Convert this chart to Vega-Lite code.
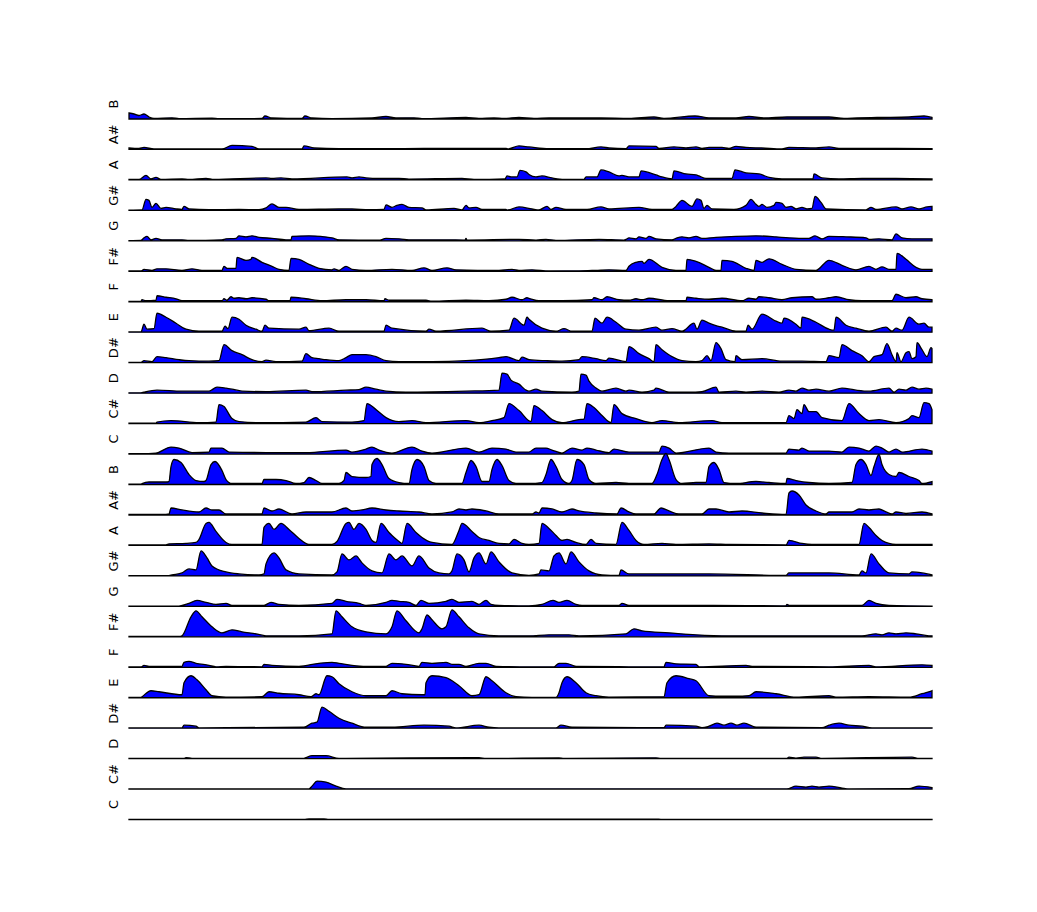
{
"$schema":"https://vega.github.io/schema/vega-lite/v6.json",
"padding":{"left":108,"top":89,"right":0,"bottom":0},
"background":"white",
"bounds":"flush",
"data":{"values":[
{"p":"B2","t":0,"v":6},{"p":"B2","t":5,"v":5},{"p":"B2","t":10,"v":3.5},{"p":"B2","t":15,"v":5},{"p":"B2","t":20,"v":2},{"p":"B2","t":25,"v":0.5},{"p":"B2","t":43,"v":1.2},{"p":"B2","t":50,"v":0.4},{"p":"B2","t":83,"v":0.8},{"p":"B2","t":90,"v":0.3},{"p":"B2","t":133,"v":0.5},{"p":"B2","t":136,"v":3},{"p":"B2","t":143,"v":1},{"p":"B2","t":173,"v":0.5},{"p":"B2","t":176,"v":3},{"p":"B2","t":183,"v":1},{"p":"B2","t":203,"v":0.4},{"p":"B2","t":243,"v":1},{"p":"B2","t":257,"v":2.5},{"p":"B2","t":267,"v":1},{"p":"B2","t":285,"v":1.2},{"p":"B2","t":293,"v":0.3},{"p":"B2","t":337,"v":1.5},{"p":"B2","t":350,"v":0.5},{"p":"B2","t":365,"v":1},{"p":"B2","t":375,"v":0.5},{"p":"B2","t":390,"v":1.5},{"p":"B2","t":405,"v":0.5},{"p":"B2","t":420,"v":1},{"p":"B2","t":447,"v":1},{"p":"B2","t":472,"v":1},{"p":"B2","t":500,"v":0.6},{"p":"B2","t":525,"v":2},{"p":"B2","t":535,"v":0.6},{"p":"B2","t":566,"v":3},{"p":"B2","t":580,"v":1.2},{"p":"B2","t":607,"v":1},{"p":"B2","t":620,"v":2.5},{"p":"B2","t":635,"v":1},{"p":"B2","t":658,"v":2},{"p":"B2","t":700,"v":2},{"p":"B2","t":715,"v":0.5},{"p":"B2","t":728,"v":1},{"p":"B2","t":748,"v":1.5},{"p":"B2","t":780,"v":2},{"p":"B2","t":795,"v":3},{"p":"B2","t":803,"v":1.5},
{"p":"A#2","t":0,"v":1.5},{"p":"A#2","t":10,"v":1},{"p":"A#2","t":15,"v":2},{"p":"A#2","t":25,"v":0.5},{"p":"A#2","t":60,"v":0.5},{"p":"A#2","t":93,"v":0.5},{"p":"A#2","t":103,"v":4},{"p":"A#2","t":123,"v":3},{"p":"A#2","t":130,"v":0.5},{"p":"A#2","t":173,"v":0.5},{"p":"A#2","t":175,"v":3.5},{"p":"A#2","t":185,"v":1.5},{"p":"A#2","t":210,"v":0.7},{"p":"A#2","t":250,"v":0.7},{"p":"A#2","t":300,"v":1},{"p":"A#2","t":377,"v":1},{"p":"A#2","t":379,"v":0.5},{"p":"A#2","t":390,"v":3.5},{"p":"A#2","t":400,"v":2.5},{"p":"A#2","t":420,"v":0.7},{"p":"A#2","t":457,"v":0.7},{"p":"A#2","t":472,"v":2.5},{"p":"A#2","t":480,"v":1.5},{"p":"A#2","t":497,"v":0.7},{"p":"A#2","t":500,"v":3.5},{"p":"A#2","t":527,"v":3},{"p":"A#2","t":530,"v":1},{"p":"A#2","t":545,"v":2.5},{"p":"A#2","t":557,"v":1.5},{"p":"A#2","t":567,"v":2.5},{"p":"A#2","t":573,"v":1},{"p":"A#2","t":580,"v":2},{"p":"A#2","t":593,"v":2},{"p":"A#2","t":600,"v":1},{"p":"A#2","t":607,"v":3},{"p":"A#2","t":617,"v":2},{"p":"A#2","t":633,"v":1.5},{"p":"A#2","t":653,"v":0.5},{"p":"A#2","t":660,"v":2},{"p":"A#2","t":687,"v":1.5},{"p":"A#2","t":700,"v":2.5},{"p":"A#2","t":710,"v":1},{"p":"A#2","t":767,"v":1},{"p":"A#2","t":803,"v":0.8},
{"p":"A2","t":0,"v":0.5},{"p":"A2","t":10,"v":0.5},{"p":"A2","t":17,"v":4.5},{"p":"A2","t":22,"v":1},{"p":"A2","t":27,"v":2.5},{"p":"A2","t":32,"v":0.5},{"p":"A2","t":53,"v":1},{"p":"A2","t":60,"v":0.4},{"p":"A2","t":77,"v":1.5},{"p":"A2","t":85,"v":0.4},{"p":"A2","t":137,"v":2},{"p":"A2","t":143,"v":1.5},{"p":"A2","t":152,"v":2},{"p":"A2","t":163,"v":1},{"p":"A2","t":218,"v":3},{"p":"A2","t":223,"v":2},{"p":"A2","t":230,"v":3},{"p":"A2","t":237,"v":2},{"p":"A2","t":250,"v":1.5},{"p":"A2","t":270,"v":1.5},{"p":"A2","t":280,"v":0.8},{"p":"A2","t":333,"v":1.5},{"p":"A2","t":345,"v":0.5},{"p":"A2","t":376,"v":1},{"p":"A2","t":378,"v":4},{"p":"A2","t":382,"v":3},{"p":"A2","t":388,"v":3},{"p":"A2","t":391,"v":9.5},{"p":"A2","t":397,"v":8},{"p":"A2","t":400,"v":5.5},{"p":"A2","t":407,"v":3},{"p":"A2","t":413,"v":4},{"p":"A2","t":423,"v":2},{"p":"A2","t":435,"v":0.5},{"p":"A2","t":455,"v":0.5},{"p":"A2","t":457,"v":3},{"p":"A2","t":468,"v":3},{"p":"A2","t":472,"v":10},{"p":"A2","t":480,"v":8},{"p":"A2","t":490,"v":4},{"p":"A2","t":493,"v":4.5},{"p":"A2","t":500,"v":3},{"p":"A2","t":510,"v":3},{"p":"A2","t":512,"v":9},{"p":"A2","t":527,"v":5},{"p":"A2","t":533,"v":3},{"p":"A2","t":543,"v":1},{"p":"A2","t":545,"v":9},{"p":"A2","t":557,"v":6},{"p":"A2","t":567,"v":5},{"p":"A2","t":570,"v":4},{"p":"A2","t":577,"v":1.5},{"p":"A2","t":603,"v":1.5},{"p":"A2","t":606,"v":10},{"p":"A2","t":617,"v":7},{"p":"A2","t":630,"v":6},{"p":"A2","t":640,"v":2.5},{"p":"A2","t":653,"v":1},{"p":"A2","t":684,"v":1},{"p":"A2","t":685,"v":6},{"p":"A2","t":693,"v":2},{"p":"A2","t":710,"v":1},{"p":"A2","t":733,"v":1.5},{"p":"A2","t":767,"v":1.5},{"p":"A2","t":803,"v":1},
{"p":"G#2","t":0,"v":0.3},{"p":"G#2","t":13,"v":0.5},{"p":"G#2","t":17,"v":11},{"p":"G#2","t":20,"v":10},{"p":"G#2","t":23,"v":3},{"p":"G#2","t":27,"v":7},{"p":"G#2","t":32,"v":2},{"p":"G#2","t":37,"v":3},{"p":"G#2","t":47,"v":1.5},{"p":"G#2","t":53,"v":1},{"p":"G#2","t":55,"v":4},{"p":"G#2","t":60,"v":1.5},{"p":"G#2","t":80,"v":0.7},{"p":"G#2","t":110,"v":1},{"p":"G#2","t":130,"v":0.7},{"p":"G#2","t":137,"v":2.5},{"p":"G#2","t":143,"v":6.5},{"p":"G#2","t":150,"v":3},{"p":"G#2","t":157,"v":3},{"p":"G#2","t":170,"v":1},{"p":"G#2","t":210,"v":1.5},{"p":"G#2","t":223,"v":1.5},{"p":"G#2","t":240,"v":0.7},{"p":"G#2","t":255,"v":1},{"p":"G#2","t":257,"v":5.5},{"p":"G#2","t":263,"v":3},{"p":"G#2","t":268,"v":5},{"p":"G#2","t":273,"v":6},{"p":"G#2","t":280,"v":3},{"p":"G#2","t":293,"v":2.5},{"p":"G#2","t":297,"v":0.5},{"p":"G#2","t":325,"v":2},{"p":"G#2","t":333,"v":0.5},{"p":"G#2","t":337,"v":5},{"p":"G#2","t":340,"v":2.5},{"p":"G#2","t":347,"v":3},{"p":"G#2","t":353,"v":1},{"p":"G#2","t":377,"v":1},{"p":"G#2","t":378,"v":0.3},{"p":"G#2","t":390,"v":3.5},{"p":"G#2","t":403,"v":1.5},{"p":"G#2","t":410,"v":0.5},{"p":"G#2","t":418,"v":4},{"p":"G#2","t":422,"v":1},{"p":"G#2","t":427,"v":3},{"p":"G#2","t":437,"v":1},{"p":"G#2","t":458,"v":1},{"p":"G#2","t":472,"v":3.5},{"p":"G#2","t":480,"v":1.5},{"p":"G#2","t":510,"v":3},{"p":"G#2","t":523,"v":1},{"p":"G#2","t":543,"v":1},{"p":"G#2","t":547,"v":4},{"p":"G#2","t":553,"v":10},{"p":"G#2","t":563,"v":4},{"p":"G#2","t":568,"v":11.5},{"p":"G#2","t":572,"v":10},{"p":"G#2","t":575,"v":2},{"p":"G#2","t":578,"v":5},{"p":"G#2","t":583,"v":1.5},{"p":"G#2","t":605,"v":1},{"p":"G#2","t":617,"v":5},{"p":"G#2","t":622,"v":11},{"p":"G#2","t":627,"v":6},{"p":"G#2","t":630,"v":4},{"p":"G#2","t":633,"v":6},{"p":"G#2","t":638,"v":3},{"p":"G#2","t":645,"v":5},{"p":"G#2","t":647,"v":8},{"p":"G#2","t":653,"v":7},{"p":"G#2","t":657,"v":3},{"p":"G#2","t":662,"v":4},{"p":"G#2","t":667,"v":1.5},{"p":"G#2","t":673,"v":3},{"p":"G#2","t":678,"v":1.5},{"p":"G#2","t":683,"v":2},{"p":"G#2","t":686,"v":14},{"p":"G#2","t":692,"v":8},{"p":"G#2","t":697,"v":1.5},{"p":"G#2","t":737,"v":0.5},{"p":"G#2","t":742,"v":3},{"p":"G#2","t":747,"v":1},{"p":"G#2","t":767,"v":3.5},{"p":"G#2","t":773,"v":1.5},{"p":"G#2","t":782,"v":3.5},{"p":"G#2","t":790,"v":1.5},{"p":"G#2","t":798,"v":3.5},{"p":"G#2","t":803,"v":4},
{"p":"G2","t":0,"v":0.3},{"p":"G2","t":12,"v":0.5},{"p":"G2","t":15,"v":3},{"p":"G2","t":18,"v":4.5},{"p":"G2","t":22,"v":1},{"p":"G2","t":27,"v":2.5},{"p":"G2","t":33,"v":1},{"p":"G2","t":53,"v":1},{"p":"G2","t":60,"v":0.4},{"p":"G2","t":93,"v":1},{"p":"G2","t":97,"v":2},{"p":"G2","t":107,"v":2.5},{"p":"G2","t":110,"v":5},{"p":"G2","t":117,"v":4},{"p":"G2","t":123,"v":5},{"p":"G2","t":130,"v":3.5},{"p":"G2","t":143,"v":2.5},{"p":"G2","t":157,"v":1},{"p":"G2","t":162,"v":1},{"p":"G2","t":163,"v":4.5},{"p":"G2","t":180,"v":5},{"p":"G2","t":203,"v":3},{"p":"G2","t":210,"v":1},{"p":"G2","t":250,"v":0.6},{"p":"G2","t":257,"v":2.5},{"p":"G2","t":270,"v":2},{"p":"G2","t":283,"v":1},{"p":"G2","t":317,"v":1},{"p":"G2","t":336,"v":0.8},{"p":"G2","t":337,"v":2.5},{"p":"G2","t":338,"v":0.8},{"p":"G2","t":390,"v":1.5},{"p":"G2","t":407,"v":0.7},{"p":"G2","t":417,"v":1.5},{"p":"G2","t":427,"v":0.5},{"p":"G2","t":470,"v":1.5},{"p":"G2","t":495,"v":0.8},{"p":"G2","t":497,"v":1.5},{"p":"G2","t":500,"v":3},{"p":"G2","t":507,"v":2},{"p":"G2","t":510,"v":4},{"p":"G2","t":517,"v":2.5},{"p":"G2","t":520,"v":4.5},{"p":"G2","t":527,"v":2},{"p":"G2","t":543,"v":1},{"p":"G2","t":547,"v":2.5},{"p":"G2","t":553,"v":4},{"p":"G2","t":560,"v":3},{"p":"G2","t":567,"v":4.5},{"p":"G2","t":573,"v":2.5},{"p":"G2","t":587,"v":3.5},{"p":"G2","t":607,"v":4.5},{"p":"G2","t":627,"v":5},{"p":"G2","t":647,"v":4},{"p":"G2","t":660,"v":3},{"p":"G2","t":680,"v":2.5},{"p":"G2","t":686,"v":5},{"p":"G2","t":693,"v":2},{"p":"G2","t":700,"v":4.5},{"p":"G2","t":717,"v":4},{"p":"G2","t":737,"v":3},{"p":"G2","t":740,"v":1.5},{"p":"G2","t":750,"v":2},{"p":"G2","t":763,"v":1},{"p":"G2","t":767,"v":7},{"p":"G2","t":773,"v":3},{"p":"G2","t":783,"v":2},{"p":"G2","t":803,"v":2},
{"p":"F#2","t":0,"v":0.3},{"p":"F#2","t":12,"v":0.3},{"p":"F#2","t":15,"v":2},{"p":"F#2","t":23,"v":1},{"p":"F#2","t":28,"v":2.5},{"p":"F#2","t":37,"v":2.5},{"p":"F#2","t":53,"v":1},{"p":"F#2","t":63,"v":2.5},{"p":"F#2","t":73,"v":1},{"p":"F#2","t":93,"v":1},{"p":"F#2","t":95,"v":5},{"p":"F#2","t":98,"v":3},{"p":"F#2","t":107,"v":3},{"p":"F#2","t":108,"v":14},{"p":"F#2","t":117,"v":11},{"p":"F#2","t":122,"v":12},{"p":"F#2","t":123,"v":14},{"p":"F#2","t":133,"v":9},{"p":"F#2","t":143,"v":5},{"p":"F#2","t":150,"v":2},{"p":"F#2","t":160,"v":1},{"p":"F#2","t":162,"v":13},{"p":"F#2","t":170,"v":12},{"p":"F#2","t":180,"v":7},{"p":"F#2","t":190,"v":3},{"p":"F#2","t":203,"v":1.5},{"p":"F#2","t":205,"v":2.5},{"p":"F#2","t":210,"v":1},{"p":"F#2","t":217,"v":5},{"p":"F#2","t":223,"v":2},{"p":"F#2","t":237,"v":1},{"p":"F#2","t":263,"v":2},{"p":"F#2","t":283,"v":1},{"p":"F#2","t":295,"v":3.5},{"p":"F#2","t":303,"v":1},{"p":"F#2","t":318,"v":3.5},{"p":"F#2","t":327,"v":1.5},{"p":"F#2","t":370,"v":1},{"p":"F#2","t":383,"v":2},{"p":"F#2","t":390,"v":1},{"p":"F#2","t":403,"v":1.5},{"p":"F#2","t":420,"v":0.4},{"p":"F#2","t":450,"v":0.5},{"p":"F#2","t":467,"v":1},{"p":"F#2","t":480,"v":1.5},{"p":"F#2","t":497,"v":1},{"p":"F#2","t":500,"v":5},{"p":"F#2","t":507,"v":9},{"p":"F#2","t":513,"v":10},{"p":"F#2","t":515,"v":8},{"p":"F#2","t":520,"v":12},{"p":"F#2","t":533,"v":4},{"p":"F#2","t":547,"v":1},{"p":"F#2","t":557,"v":1},{"p":"F#2","t":558,"v":12},{"p":"F#2","t":567,"v":10},{"p":"F#2","t":580,"v":4},{"p":"F#2","t":587,"v":1},{"p":"F#2","t":592,"v":1},{"p":"F#2","t":593,"v":11},{"p":"F#2","t":603,"v":10},{"p":"F#2","t":617,"v":3},{"p":"F#2","t":625,"v":1},{"p":"F#2","t":627,"v":11},{"p":"F#2","t":633,"v":9},{"p":"F#2","t":640,"v":12.5},{"p":"F#2","t":653,"v":7},{"p":"F#2","t":667,"v":2},{"p":"F#2","t":687,"v":1},{"p":"F#2","t":700,"v":11},{"p":"F#2","t":713,"v":6},{"p":"F#2","t":727,"v":1.5},{"p":"F#2","t":740,"v":5},{"p":"F#2","t":747,"v":2},{"p":"F#2","t":753,"v":4.5},{"p":"F#2","t":760,"v":2},{"p":"F#2","t":767,"v":2},{"p":"F#2","t":768,"v":18},{"p":"F#2","t":777,"v":12},{"p":"F#2","t":787,"v":4},{"p":"F#2","t":793,"v":2},{"p":"F#2","t":803,"v":2},
{"p":"F2","t":0,"v":0.3},{"p":"F2","t":12,"v":0.3},{"p":"F2","t":13,"v":2},{"p":"F2","t":17,"v":1},{"p":"F2","t":27,"v":1.5},{"p":"F2","t":28,"v":6},{"p":"F2","t":37,"v":4.5},{"p":"F2","t":47,"v":3},{"p":"F2","t":53,"v":1},{"p":"F2","t":93,"v":1},{"p":"F2","t":95,"v":3},{"p":"F2","t":98,"v":1.5},{"p":"F2","t":102,"v":5},{"p":"F2","t":105,"v":3.5},{"p":"F2","t":110,"v":4},{"p":"F2","t":117,"v":3},{"p":"F2","t":123,"v":4},{"p":"F2","t":137,"v":2.5},{"p":"F2","t":140,"v":1},{"p":"F2","t":161,"v":1},{"p":"F2","t":162,"v":4.5},{"p":"F2","t":177,"v":3},{"p":"F2","t":193,"v":1},{"p":"F2","t":217,"v":2},{"p":"F2","t":237,"v":2},{"p":"F2","t":255,"v":1},{"p":"F2","t":256,"v":3},{"p":"F2","t":260,"v":1.5},{"p":"F2","t":297,"v":1.5},{"p":"F2","t":303,"v":0.5},{"p":"F2","t":337,"v":1.5},{"p":"F2","t":360,"v":1},{"p":"F2","t":377,"v":2.5},{"p":"F2","t":383,"v":4.5},{"p":"F2","t":393,"v":2},{"p":"F2","t":398,"v":4},{"p":"F2","t":400,"v":3.5},{"p":"F2","t":410,"v":1},{"p":"F2","t":433,"v":1},{"p":"F2","t":463,"v":2},{"p":"F2","t":465,"v":4},{"p":"F2","t":473,"v":2},{"p":"F2","t":478,"v":5},{"p":"F2","t":490,"v":2},{"p":"F2","t":500,"v":1.5},{"p":"F2","t":507,"v":3},{"p":"F2","t":513,"v":2},{"p":"F2","t":520,"v":3.5},{"p":"F2","t":540,"v":1},{"p":"F2","t":557,"v":1},{"p":"F2","t":558,"v":4.5},{"p":"F2","t":567,"v":3.5},{"p":"F2","t":580,"v":2.5},{"p":"F2","t":593,"v":3.5},{"p":"F2","t":613,"v":1},{"p":"F2","t":620,"v":3.5},{"p":"F2","t":627,"v":2.5},{"p":"F2","t":630,"v":5},{"p":"F2","t":640,"v":4},{"p":"F2","t":653,"v":2},{"p":"F2","t":663,"v":4},{"p":"F2","t":683,"v":5},{"p":"F2","t":687,"v":2.5},{"p":"F2","t":700,"v":4},{"p":"F2","t":707,"v":5},{"p":"F2","t":720,"v":2},{"p":"F2","t":733,"v":1},{"p":"F2","t":763,"v":1},{"p":"F2","t":767,"v":7.5},{"p":"F2","t":777,"v":4},{"p":"F2","t":787,"v":5},{"p":"F2","t":793,"v":3},{"p":"F2","t":803,"v":2},
{"p":"E2","t":0,"v":0.3},{"p":"E2","t":12,"v":0.3},{"p":"E2","t":15,"v":8},{"p":"E2","t":18,"v":3},{"p":"E2","t":25,"v":3.5},{"p":"E2","t":28,"v":19},{"p":"E2","t":37,"v":15},{"p":"E2","t":47,"v":9},{"p":"E2","t":57,"v":3},{"p":"E2","t":70,"v":1},{"p":"E2","t":93,"v":1},{"p":"E2","t":96,"v":6},{"p":"E2","t":99,"v":3.5},{"p":"E2","t":103,"v":15},{"p":"E2","t":110,"v":13},{"p":"E2","t":117,"v":7},{"p":"E2","t":127,"v":3},{"p":"E2","t":133,"v":1},{"p":"E2","t":136,"v":7},{"p":"E2","t":140,"v":4},{"p":"E2","t":170,"v":3},{"p":"E2","t":177,"v":5},{"p":"E2","t":180,"v":1.5},{"p":"E2","t":200,"v":4},{"p":"E2","t":210,"v":1},{"p":"E2","t":255,"v":1},{"p":"E2","t":257,"v":7},{"p":"E2","t":263,"v":4},{"p":"E2","t":297,"v":1},{"p":"E2","t":300,"v":3},{"p":"E2","t":307,"v":1},{"p":"E2","t":353,"v":4},{"p":"E2","t":362,"v":1},{"p":"E2","t":380,"v":2},{"p":"E2","t":385,"v":14},{"p":"E2","t":395,"v":7},{"p":"E2","t":398,"v":15},{"p":"E2","t":400,"v":13},{"p":"E2","t":413,"v":4},{"p":"E2","t":427,"v":1},{"p":"E2","t":435,"v":3.5},{"p":"E2","t":443,"v":1},{"p":"E2","t":463,"v":1},{"p":"E2","t":466,"v":14},{"p":"E2","t":473,"v":9},{"p":"E2","t":478,"v":15},{"p":"E2","t":487,"v":10},{"p":"E2","t":497,"v":3},{"p":"E2","t":510,"v":2},{"p":"E2","t":527,"v":5},{"p":"E2","t":533,"v":2},{"p":"E2","t":543,"v":3.5},{"p":"E2","t":553,"v":1},{"p":"E2","t":565,"v":9},{"p":"E2","t":568,"v":3},{"p":"E2","t":573,"v":12},{"p":"E2","t":580,"v":9},{"p":"E2","t":587,"v":6.5},{"p":"E2","t":593,"v":5},{"p":"E2","t":607,"v":1},{"p":"E2","t":617,"v":1},{"p":"E2","t":619,"v":7},{"p":"E2","t":623,"v":3},{"p":"E2","t":633,"v":18},{"p":"E2","t":647,"v":11},{"p":"E2","t":653,"v":9},{"p":"E2","t":655,"v":14},{"p":"E2","t":667,"v":8},{"p":"E2","t":672,"v":4},{"p":"E2","t":673,"v":15},{"p":"E2","t":687,"v":10},{"p":"E2","t":700,"v":3},{"p":"E2","t":705,"v":2},{"p":"E2","t":707,"v":15},{"p":"E2","t":717,"v":7},{"p":"E2","t":727,"v":4},{"p":"E2","t":740,"v":1},{"p":"E2","t":757,"v":5},{"p":"E2","t":763,"v":1},{"p":"E2","t":767,"v":4},{"p":"E2","t":773,"v":2},{"p":"E2","t":780,"v":15},{"p":"E2","t":790,"v":8},{"p":"E2","t":795,"v":9},{"p":"E2","t":800,"v":5},{"p":"E2","t":803,"v":5},
{"p":"D#2","t":0,"v":0.3},{"p":"D#2","t":12,"v":0.3},{"p":"D#2","t":15,"v":2},{"p":"D#2","t":23,"v":1},{"p":"D#2","t":28,"v":6},{"p":"D#2","t":37,"v":5},{"p":"D#2","t":50,"v":3},{"p":"D#2","t":60,"v":2},{"p":"D#2","t":80,"v":1.5},{"p":"D#2","t":90,"v":2},{"p":"D#2","t":95,"v":18},{"p":"D#2","t":103,"v":12},{"p":"D#2","t":113,"v":8},{"p":"D#2","t":123,"v":3},{"p":"D#2","t":133,"v":1},{"p":"D#2","t":137,"v":2.5},{"p":"D#2","t":147,"v":1},{"p":"D#2","t":173,"v":1.5},{"p":"D#2","t":177,"v":9},{"p":"D#2","t":183,"v":5},{"p":"D#2","t":190,"v":4},{"p":"D#2","t":197,"v":3},{"p":"D#2","t":210,"v":2},{"p":"D#2","t":217,"v":5},{"p":"D#2","t":223,"v":8},{"p":"D#2","t":237,"v":8},{"p":"D#2","t":247,"v":6},{"p":"D#2","t":257,"v":2},{"p":"D#2","t":270,"v":1},{"p":"D#2","t":303,"v":1},{"p":"D#2","t":337,"v":2},{"p":"D#2","t":370,"v":5},{"p":"D#2","t":377,"v":6},{"p":"D#2","t":390,"v":2},{"p":"D#2","t":393,"v":5.5},{"p":"D#2","t":400,"v":3},{"p":"D#2","t":417,"v":2},{"p":"D#2","t":433,"v":1.5},{"p":"D#2","t":450,"v":3},{"p":"D#2","t":453,"v":6},{"p":"D#2","t":467,"v":4},{"p":"D#2","t":477,"v":2},{"p":"D#2","t":480,"v":4.5},{"p":"D#2","t":497,"v":1},{"p":"D#2","t":500,"v":16},{"p":"D#2","t":510,"v":9},{"p":"D#2","t":520,"v":4},{"p":"D#2","t":525,"v":1},{"p":"D#2","t":527,"v":18},{"p":"D#2","t":533,"v":13},{"p":"D#2","t":543,"v":6},{"p":"D#2","t":553,"v":2},{"p":"D#2","t":567,"v":1},{"p":"D#2","t":573,"v":2},{"p":"D#2","t":578,"v":7},{"p":"D#2","t":582,"v":2},{"p":"D#2","t":587,"v":20},{"p":"D#2","t":592,"v":14},{"p":"D#2","t":597,"v":3},{"p":"D#2","t":606,"v":1},{"p":"D#2","t":607,"v":7},{"p":"D#2","t":613,"v":3},{"p":"D#2","t":633,"v":4},{"p":"D#2","t":653,"v":1.5},{"p":"D#2","t":673,"v":1.5},{"p":"D#2","t":697,"v":1},{"p":"D#2","t":700,"v":7},{"p":"D#2","t":710,"v":5},{"p":"D#2","t":713,"v":18},{"p":"D#2","t":723,"v":12},{"p":"D#2","t":733,"v":7},{"p":"D#2","t":740,"v":1},{"p":"D#2","t":745,"v":6},{"p":"D#2","t":753,"v":8},{"p":"D#2","t":758,"v":19},{"p":"D#2","t":763,"v":8},{"p":"D#2","t":767,"v":1},{"p":"D#2","t":768,"v":10},{"p":"D#2","t":772,"v":1},{"p":"D#2","t":777,"v":10},{"p":"D#2","t":780,"v":11},{"p":"D#2","t":783,"v":4},{"p":"D#2","t":787,"v":6},{"p":"D#2","t":788,"v":20},{"p":"D#2","t":793,"v":13},{"p":"D#2","t":798,"v":6},{"p":"D#2","t":802,"v":15},{"p":"D#2","t":803,"v":14},
{"p":"D2","t":0,"v":0.3},{"p":"D2","t":12,"v":0.3},{"p":"D2","t":15,"v":1},{"p":"D2","t":28,"v":3},{"p":"D2","t":53,"v":2},{"p":"D2","t":80,"v":2},{"p":"D2","t":88,"v":6},{"p":"D2","t":97,"v":5},{"p":"D2","t":103,"v":4},{"p":"D2","t":113,"v":2},{"p":"D2","t":137,"v":1.5},{"p":"D2","t":177,"v":3},{"p":"D2","t":183,"v":1.5},{"p":"D2","t":217,"v":3},{"p":"D2","t":230,"v":3.5},{"p":"D2","t":237,"v":6},{"p":"D2","t":247,"v":4},{"p":"D2","t":257,"v":2},{"p":"D2","t":277,"v":1},{"p":"D2","t":337,"v":2},{"p":"D2","t":370,"v":3},{"p":"D2","t":373,"v":20},{"p":"D2","t":378,"v":19},{"p":"D2","t":382,"v":13},{"p":"D2","t":390,"v":9},{"p":"D2","t":397,"v":3},{"p":"D2","t":400,"v":2},{"p":"D2","t":407,"v":4},{"p":"D2","t":413,"v":2},{"p":"D2","t":443,"v":1},{"p":"D2","t":450,"v":2},{"p":"D2","t":452,"v":19},{"p":"D2","t":457,"v":18},{"p":"D2","t":460,"v":12},{"p":"D2","t":467,"v":5},{"p":"D2","t":473,"v":2},{"p":"D2","t":487,"v":5},{"p":"D2","t":497,"v":2},{"p":"D2","t":500,"v":3},{"p":"D2","t":513,"v":1},{"p":"D2","t":525,"v":3},{"p":"D2","t":527,"v":5},{"p":"D2","t":540,"v":1},{"p":"D2","t":560,"v":1},{"p":"D2","t":573,"v":1.5},{"p":"D2","t":587,"v":6},{"p":"D2","t":590,"v":1},{"p":"D2","t":607,"v":2},{"p":"D2","t":617,"v":1},{"p":"D2","t":633,"v":2},{"p":"D2","t":650,"v":1},{"p":"D2","t":660,"v":3},{"p":"D2","t":667,"v":2},{"p":"D2","t":673,"v":5},{"p":"D2","t":680,"v":3},{"p":"D2","t":687,"v":4},{"p":"D2","t":700,"v":2},{"p":"D2","t":713,"v":5},{"p":"D2","t":727,"v":3},{"p":"D2","t":740,"v":2},{"p":"D2","t":760,"v":5},{"p":"D2","t":765,"v":1},{"p":"D2","t":770,"v":4},{"p":"D2","t":777,"v":3},{"p":"D2","t":783,"v":6},{"p":"D2","t":790,"v":4},{"p":"D2","t":797,"v":5},{"p":"D2","t":803,"v":4},
{"p":"C#2","t":0,"v":0.5},{"p":"C#2","t":27,"v":0.5},{"p":"C#2","t":28,"v":1.5},{"p":"C#2","t":42,"v":3},{"p":"C#2","t":70,"v":1},{"p":"C#2","t":87,"v":1.5},{"p":"C#2","t":90,"v":19},{"p":"C#2","t":95,"v":17},{"p":"C#2","t":103,"v":5},{"p":"C#2","t":110,"v":2},{"p":"C#2","t":130,"v":1},{"p":"C#2","t":177,"v":1.5},{"p":"C#2","t":187,"v":6},{"p":"C#2","t":193,"v":2},{"p":"C#2","t":223,"v":1.5},{"p":"C#2","t":235,"v":3},{"p":"C#2","t":238,"v":20},{"p":"C#2","t":247,"v":14},{"p":"C#2","t":257,"v":6},{"p":"C#2","t":270,"v":2},{"p":"C#2","t":283,"v":3},{"p":"C#2","t":297,"v":1},{"p":"C#2","t":337,"v":3},{"p":"C#2","t":350,"v":1},{"p":"C#2","t":363,"v":3},{"p":"C#2","t":375,"v":6},{"p":"C#2","t":380,"v":20},{"p":"C#2","t":390,"v":13},{"p":"C#2","t":402,"v":2},{"p":"C#2","t":405,"v":18},{"p":"C#2","t":413,"v":13},{"p":"C#2","t":423,"v":4},{"p":"C#2","t":433,"v":1},{"p":"C#2","t":450,"v":4},{"p":"C#2","t":455,"v":4.5},{"p":"C#2","t":458,"v":20},{"p":"C#2","t":465,"v":16},{"p":"C#2","t":473,"v":8},{"p":"C#2","t":482,"v":1},{"p":"C#2","t":485,"v":19},{"p":"C#2","t":493,"v":10},{"p":"C#2","t":507,"v":5},{"p":"C#2","t":523,"v":1},{"p":"C#2","t":533,"v":3},{"p":"C#2","t":550,"v":1},{"p":"C#2","t":583,"v":3},{"p":"C#2","t":593,"v":1},{"p":"C#2","t":657,"v":1},{"p":"C#2","t":660,"v":8},{"p":"C#2","t":665,"v":5},{"p":"C#2","t":668,"v":14},{"p":"C#2","t":673,"v":10},{"p":"C#2","t":675,"v":19},{"p":"C#2","t":680,"v":12},{"p":"C#2","t":687,"v":12},{"p":"C#2","t":693,"v":6},{"p":"C#2","t":713,"v":3},{"p":"C#2","t":720,"v":20},{"p":"C#2","t":730,"v":10},{"p":"C#2","t":740,"v":3},{"p":"C#2","t":750,"v":4},{"p":"C#2","t":767,"v":1},{"p":"C#2","t":780,"v":5},{"p":"C#2","t":783,"v":8},{"p":"C#2","t":790,"v":6},{"p":"C#2","t":795,"v":21},{"p":"C#2","t":800,"v":20},{"p":"C#2","t":803,"v":14},
{"p":"C2","t":0,"v":0.3},{"p":"C2","t":12,"v":0.3},{"p":"C2","t":27,"v":1},{"p":"C2","t":42,"v":7},{"p":"C2","t":50,"v":6},{"p":"C2","t":63,"v":1.5},{"p":"C2","t":80,"v":2},{"p":"C2","t":82,"v":6},{"p":"C2","t":93,"v":6},{"p":"C2","t":100,"v":2},{"p":"C2","t":137,"v":1.5},{"p":"C2","t":177,"v":1.5},{"p":"C2","t":217,"v":4},{"p":"C2","t":223,"v":2},{"p":"C2","t":237,"v":5},{"p":"C2","t":243,"v":7},{"p":"C2","t":250,"v":4},{"p":"C2","t":263,"v":1},{"p":"C2","t":283,"v":7},{"p":"C2","t":293,"v":3},{"p":"C2","t":303,"v":1},{"p":"C2","t":337,"v":6},{"p":"C2","t":350,"v":2},{"p":"C2","t":363,"v":6},{"p":"C2","t":377,"v":5},{"p":"C2","t":387,"v":2},{"p":"C2","t":400,"v":2},{"p":"C2","t":407,"v":6},{"p":"C2","t":417,"v":6},{"p":"C2","t":423,"v":4},{"p":"C2","t":433,"v":1},{"p":"C2","t":443,"v":6},{"p":"C2","t":453,"v":4},{"p":"C2","t":458,"v":6},{"p":"C2","t":467,"v":4},{"p":"C2","t":480,"v":1.5},{"p":"C2","t":485,"v":5},{"p":"C2","t":500,"v":2},{"p":"C2","t":530,"v":2},{"p":"C2","t":533,"v":8},{"p":"C2","t":540,"v":6},{"p":"C2","t":547,"v":1},{"p":"C2","t":580,"v":6},{"p":"C2","t":587,"v":2},{"p":"C2","t":600,"v":1},{"p":"C2","t":657,"v":1},{"p":"C2","t":660,"v":5},{"p":"C2","t":670,"v":4},{"p":"C2","t":673,"v":6},{"p":"C2","t":680,"v":3},{"p":"C2","t":700,"v":3},{"p":"C2","t":713,"v":2},{"p":"C2","t":720,"v":7},{"p":"C2","t":730,"v":6},{"p":"C2","t":740,"v":3},{"p":"C2","t":747,"v":8},{"p":"C2","t":753,"v":6},{"p":"C2","t":760,"v":2},{"p":"C2","t":767,"v":5},{"p":"C2","t":773,"v":2},{"p":"C2","t":793,"v":5},{"p":"C2","t":803,"v":3},
{"p":"B1","t":0,"v":0.3},{"p":"B1","t":12,"v":0.3},{"p":"B1","t":13,"v":1},{"p":"B1","t":20,"v":2.5},{"p":"B1","t":37,"v":2.5},{"p":"B1","t":40,"v":3},{"p":"B1","t":42,"v":18},{"p":"B1","t":45,"v":25},{"p":"B1","t":52,"v":22},{"p":"B1","t":60,"v":10},{"p":"B1","t":67,"v":4},{"p":"B1","t":75,"v":3},{"p":"B1","t":77,"v":4},{"p":"B1","t":82,"v":20},{"p":"B1","t":86,"v":23},{"p":"B1","t":93,"v":14},{"p":"B1","t":97,"v":5},{"p":"B1","t":103,"v":1},{"p":"B1","t":133,"v":1},{"p":"B1","t":135,"v":5},{"p":"B1","t":147,"v":5},{"p":"B1","t":157,"v":4},{"p":"B1","t":167,"v":1},{"p":"B1","t":175,"v":2},{"p":"B1","t":180,"v":7},{"p":"B1","t":187,"v":4},{"p":"B1","t":193,"v":1},{"p":"B1","t":210,"v":1},{"p":"B1","t":215,"v":4},{"p":"B1","t":217,"v":12},{"p":"B1","t":223,"v":8},{"p":"B1","t":237,"v":7},{"p":"B1","t":242,"v":8},{"p":"B1","t":243,"v":20},{"p":"B1","t":248,"v":26},{"p":"B1","t":253,"v":20},{"p":"B1","t":260,"v":6},{"p":"B1","t":270,"v":2},{"p":"B1","t":280,"v":1},{"p":"B1","t":283,"v":15},{"p":"B1","t":288,"v":25},{"p":"B1","t":295,"v":18},{"p":"B1","t":300,"v":4},{"p":"B1","t":307,"v":1},{"p":"B1","t":333,"v":1},{"p":"B1","t":337,"v":12},{"p":"B1","t":342,"v":24},{"p":"B1","t":347,"v":18},{"p":"B1","t":353,"v":3},{"p":"B1","t":360,"v":3},{"p":"B1","t":363,"v":15},{"p":"B1","t":368,"v":25},{"p":"B1","t":373,"v":19},{"p":"B1","t":380,"v":4},{"p":"B1","t":387,"v":1},{"p":"B1","t":400,"v":1},{"p":"B1","t":413,"v":2},{"p":"B1","t":417,"v":10},{"p":"B1","t":422,"v":25},{"p":"B1","t":427,"v":18},{"p":"B1","t":433,"v":5},{"p":"B1","t":440,"v":1},{"p":"B1","t":443,"v":4},{"p":"B1","t":448,"v":25},{"p":"B1","t":455,"v":20},{"p":"B1","t":460,"v":5},{"p":"B1","t":467,"v":1},{"p":"B1","t":487,"v":2},{"p":"B1","t":500,"v":1},{"p":"B1","t":523,"v":1},{"p":"B1","t":528,"v":10},{"p":"B1","t":533,"v":25},{"p":"B1","t":537,"v":31},{"p":"B1","t":540,"v":25},{"p":"B1","t":547,"v":5},{"p":"B1","t":553,"v":1},{"p":"B1","t":567,"v":2},{"p":"B1","t":577,"v":2},{"p":"B1","t":580,"v":18},{"p":"B1","t":585,"v":22},{"p":"B1","t":590,"v":15},{"p":"B1","t":595,"v":2},{"p":"B1","t":607,"v":1},{"p":"B1","t":627,"v":3},{"p":"B1","t":640,"v":2},{"p":"B1","t":657,"v":1},{"p":"B1","t":658,"v":6},{"p":"B1","t":667,"v":4},{"p":"B1","t":680,"v":2},{"p":"B1","t":700,"v":1},{"p":"B1","t":723,"v":2},{"p":"B1","t":727,"v":20},{"p":"B1","t":732,"v":25},{"p":"B1","t":737,"v":20},{"p":"B1","t":742,"v":9},{"p":"B1","t":745,"v":18},{"p":"B1","t":750,"v":30},{"p":"B1","t":753,"v":20},{"p":"B1","t":760,"v":10},{"p":"B1","t":767,"v":8},{"p":"B1","t":770,"v":12},{"p":"B1","t":780,"v":8},{"p":"B1","t":790,"v":4},{"p":"B1","t":793,"v":1},{"p":"B1","t":803,"v":3},
{"p":"A#1","t":0,"v":0.5},{"p":"A#1","t":37,"v":0.5},{"p":"A#1","t":40,"v":1},{"p":"A#1","t":42,"v":7},{"p":"A#1","t":53,"v":5},{"p":"A#1","t":70,"v":3},{"p":"A#1","t":77,"v":7},{"p":"A#1","t":83,"v":5},{"p":"A#1","t":90,"v":5},{"p":"A#1","t":97,"v":1},{"p":"A#1","t":133,"v":1},{"p":"A#1","t":135,"v":7},{"p":"A#1","t":143,"v":4},{"p":"A#1","t":150,"v":6},{"p":"A#1","t":163,"v":1},{"p":"A#1","t":177,"v":3},{"p":"A#1","t":203,"v":3},{"p":"A#1","t":217,"v":7},{"p":"A#1","t":223,"v":4},{"p":"A#1","t":233,"v":5},{"p":"A#1","t":243,"v":7},{"p":"A#1","t":257,"v":5},{"p":"A#1","t":270,"v":4},{"p":"A#1","t":290,"v":3},{"p":"A#1","t":303,"v":1},{"p":"A#1","t":323,"v":3},{"p":"A#1","t":330,"v":6},{"p":"A#1","t":337,"v":5},{"p":"A#1","t":343,"v":6},{"p":"A#1","t":357,"v":4},{"p":"A#1","t":370,"v":1},{"p":"A#1","t":403,"v":1},{"p":"A#1","t":407,"v":3},{"p":"A#1","t":410,"v":2},{"p":"A#1","t":413,"v":7},{"p":"A#1","t":423,"v":6},{"p":"A#1","t":433,"v":3},{"p":"A#1","t":443,"v":6},{"p":"A#1","t":450,"v":4},{"p":"A#1","t":467,"v":2},{"p":"A#1","t":488,"v":1},{"p":"A#1","t":492,"v":7},{"p":"A#1","t":500,"v":3},{"p":"A#1","t":507,"v":1},{"p":"A#1","t":525,"v":1},{"p":"A#1","t":532,"v":7},{"p":"A#1","t":540,"v":4},{"p":"A#1","t":550,"v":1},{"p":"A#1","t":573,"v":1},{"p":"A#1","t":580,"v":6},{"p":"A#1","t":587,"v":6},{"p":"A#1","t":600,"v":3},{"p":"A#1","t":613,"v":4},{"p":"A#1","t":633,"v":2},{"p":"A#1","t":657,"v":0.5},{"p":"A#1","t":660,"v":22},{"p":"A#1","t":663,"v":24},{"p":"A#1","t":670,"v":20},{"p":"A#1","t":677,"v":10},{"p":"A#1","t":687,"v":4},{"p":"A#1","t":697,"v":1},{"p":"A#1","t":700,"v":3},{"p":"A#1","t":723,"v":3},{"p":"A#1","t":730,"v":6},{"p":"A#1","t":740,"v":5},{"p":"A#1","t":750,"v":6},{"p":"A#1","t":757,"v":3},{"p":"A#1","t":763,"v":1},{"p":"A#1","t":767,"v":3},{"p":"A#1","t":777,"v":1.5},{"p":"A#1","t":793,"v":3},{"p":"A#1","t":803,"v":1},
{"p":"A1","t":0,"v":0.5},{"p":"A1","t":37,"v":0.5},{"p":"A1","t":40,"v":1.5},{"p":"A1","t":57,"v":2},{"p":"A1","t":67,"v":3},{"p":"A1","t":70,"v":6},{"p":"A1","t":77,"v":22},{"p":"A1","t":80,"v":23},{"p":"A1","t":87,"v":14},{"p":"A1","t":97,"v":3},{"p":"A1","t":103,"v":1},{"p":"A1","t":133,"v":1},{"p":"A1","t":135,"v":18},{"p":"A1","t":140,"v":22},{"p":"A1","t":145,"v":16},{"p":"A1","t":152,"v":22},{"p":"A1","t":160,"v":16},{"p":"A1","t":170,"v":7},{"p":"A1","t":180,"v":1},{"p":"A1","t":203,"v":1},{"p":"A1","t":208,"v":4},{"p":"A1","t":217,"v":22},{"p":"A1","t":220,"v":23},{"p":"A1","t":225,"v":16},{"p":"A1","t":230,"v":22},{"p":"A1","t":237,"v":16},{"p":"A1","t":243,"v":5},{"p":"A1","t":247,"v":3},{"p":"A1","t":252,"v":22},{"p":"A1","t":260,"v":13},{"p":"A1","t":263,"v":10},{"p":"A1","t":270,"v":4},{"p":"A1","t":273,"v":2},{"p":"A1","t":278,"v":22},{"p":"A1","t":287,"v":13},{"p":"A1","t":293,"v":8},{"p":"A1","t":303,"v":3},{"p":"A1","t":323,"v":1},{"p":"A1","t":330,"v":15},{"p":"A1","t":333,"v":22},{"p":"A1","t":343,"v":14},{"p":"A1","t":350,"v":8},{"p":"A1","t":360,"v":5},{"p":"A1","t":370,"v":2},{"p":"A1","t":380,"v":1.5},{"p":"A1","t":385,"v":6},{"p":"A1","t":393,"v":2},{"p":"A1","t":400,"v":1},{"p":"A1","t":410,"v":2},{"p":"A1","t":413,"v":22},{"p":"A1","t":420,"v":17},{"p":"A1","t":427,"v":10},{"p":"A1","t":433,"v":5},{"p":"A1","t":438,"v":6},{"p":"A1","t":447,"v":3},{"p":"A1","t":457,"v":1},{"p":"A1","t":462,"v":6},{"p":"A1","t":467,"v":2},{"p":"A1","t":487,"v":1},{"p":"A1","t":493,"v":23},{"p":"A1","t":500,"v":15},{"p":"A1","t":507,"v":5},{"p":"A1","t":515,"v":1},{"p":"A1","t":533,"v":2},{"p":"A1","t":547,"v":1},{"p":"A1","t":580,"v":1.5},{"p":"A1","t":600,"v":1},{"p":"A1","t":657,"v":0.5},{"p":"A1","t":660,"v":5},{"p":"A1","t":673,"v":2},{"p":"A1","t":683,"v":1},{"p":"A1","t":730,"v":1},{"p":"A1","t":735,"v":22},{"p":"A1","t":740,"v":18},{"p":"A1","t":747,"v":10},{"p":"A1","t":753,"v":5},{"p":"A1","t":760,"v":2},{"p":"A1","t":767,"v":1},{"p":"A1","t":803,"v":1},
{"p":"G#1","t":0,"v":0.3},{"p":"G#1","t":40,"v":0.3},{"p":"G#1","t":43,"v":1},{"p":"G#1","t":53,"v":3},{"p":"G#1","t":60,"v":7},{"p":"G#1","t":67,"v":6},{"p":"G#1","t":72,"v":25},{"p":"G#1","t":78,"v":18},{"p":"G#1","t":83,"v":10},{"p":"G#1","t":97,"v":4},{"p":"G#1","t":110,"v":2},{"p":"G#1","t":130,"v":1},{"p":"G#1","t":135,"v":2},{"p":"G#1","t":137,"v":12},{"p":"G#1","t":145,"v":23},{"p":"G#1","t":150,"v":18},{"p":"G#1","t":157,"v":6},{"p":"G#1","t":170,"v":2},{"p":"G#1","t":203,"v":1},{"p":"G#1","t":208,"v":4},{"p":"G#1","t":213,"v":22},{"p":"G#1","t":220,"v":16},{"p":"G#1","t":227,"v":20},{"p":"G#1","t":233,"v":13},{"p":"G#1","t":243,"v":5},{"p":"G#1","t":253,"v":3},{"p":"G#1","t":260,"v":22},{"p":"G#1","t":267,"v":16},{"p":"G#1","t":273,"v":20},{"p":"G#1","t":283,"v":10},{"p":"G#1","t":290,"v":20},{"p":"G#1","t":300,"v":8},{"p":"G#1","t":310,"v":3},{"p":"G#1","t":320,"v":2},{"p":"G#1","t":323,"v":5},{"p":"G#1","t":328,"v":22},{"p":"G#1","t":335,"v":16},{"p":"G#1","t":340,"v":4},{"p":"G#1","t":345,"v":18},{"p":"G#1","t":350,"v":23},{"p":"G#1","t":357,"v":12},{"p":"G#1","t":362,"v":24},{"p":"G#1","t":370,"v":14},{"p":"G#1","t":383,"v":3},{"p":"G#1","t":400,"v":0.5},{"p":"G#1","t":410,"v":2},{"p":"G#1","t":412,"v":6},{"p":"G#1","t":420,"v":5},{"p":"G#1","t":425,"v":20},{"p":"G#1","t":430,"v":23},{"p":"G#1","t":437,"v":12},{"p":"G#1","t":442,"v":24},{"p":"G#1","t":450,"v":14},{"p":"G#1","t":460,"v":5},{"p":"G#1","t":473,"v":1},{"p":"G#1","t":490,"v":0.5},{"p":"G#1","t":492,"v":6},{"p":"G#1","t":500,"v":2},{"p":"G#1","t":533,"v":2},{"p":"G#1","t":580,"v":2},{"p":"G#1","t":657,"v":0.5},{"p":"G#1","t":660,"v":3},{"p":"G#1","t":700,"v":3},{"p":"G#1","t":730,"v":1},{"p":"G#1","t":733,"v":5},{"p":"G#1","t":737,"v":3},{"p":"G#1","t":742,"v":22},{"p":"G#1","t":750,"v":12},{"p":"G#1","t":760,"v":3},{"p":"G#1","t":780,"v":2},{"p":"G#1","t":783,"v":4},{"p":"G#1","t":793,"v":3},{"p":"G#1","t":803,"v":1},
{"p":"G1","t":0,"v":0.3},{"p":"G1","t":50,"v":0.3},{"p":"G1","t":60,"v":3},{"p":"G1","t":68,"v":6},{"p":"G1","t":77,"v":4},{"p":"G1","t":87,"v":2},{"p":"G1","t":97,"v":3},{"p":"G1","t":103,"v":1},{"p":"G1","t":135,"v":1},{"p":"G1","t":142,"v":4},{"p":"G1","t":150,"v":2},{"p":"G1","t":170,"v":1},{"p":"G1","t":203,"v":3},{"p":"G1","t":208,"v":7},{"p":"G1","t":217,"v":5},{"p":"G1","t":230,"v":3},{"p":"G1","t":237,"v":1},{"p":"G1","t":257,"v":4},{"p":"G1","t":263,"v":6},{"p":"G1","t":270,"v":5},{"p":"G1","t":280,"v":4},{"p":"G1","t":287,"v":1},{"p":"G1","t":292,"v":6},{"p":"G1","t":300,"v":3},{"p":"G1","t":317,"v":5},{"p":"G1","t":323,"v":7},{"p":"G1","t":330,"v":4},{"p":"G1","t":343,"v":5},{"p":"G1","t":350,"v":2},{"p":"G1","t":357,"v":6},{"p":"G1","t":362,"v":2},{"p":"G1","t":370,"v":1},{"p":"G1","t":400,"v":0.5},{"p":"G1","t":413,"v":2},{"p":"G1","t":424,"v":6},{"p":"G1","t":430,"v":4},{"p":"G1","t":438,"v":6},{"p":"G1","t":447,"v":2},{"p":"G1","t":453,"v":1},{"p":"G1","t":490,"v":1},{"p":"G1","t":493,"v":3},{"p":"G1","t":500,"v":1},{"p":"G1","t":533,"v":1},{"p":"G1","t":580,"v":1},{"p":"G1","t":657,"v":0.5},{"p":"G1","t":658,"v":2},{"p":"G1","t":660,"v":1},{"p":"G1","t":733,"v":1},{"p":"G1","t":740,"v":6},{"p":"G1","t":747,"v":3},{"p":"G1","t":760,"v":1},{"p":"G1","t":803,"v":0.3},
{"p":"F#1","t":0,"v":0.3},{"p":"F#1","t":50,"v":0.3},{"p":"F#1","t":53,"v":1},{"p":"F#1","t":62,"v":20},{"p":"F#1","t":67,"v":26},{"p":"F#1","t":73,"v":20},{"p":"F#1","t":83,"v":10},{"p":"F#1","t":93,"v":4},{"p":"F#1","t":103,"v":7},{"p":"F#1","t":113,"v":5},{"p":"F#1","t":127,"v":3},{"p":"F#1","t":137,"v":1},{"p":"F#1","t":170,"v":1},{"p":"F#1","t":203,"v":3},{"p":"F#1","t":207,"v":26},{"p":"F#1","t":213,"v":20},{"p":"F#1","t":223,"v":10},{"p":"F#1","t":237,"v":5},{"p":"F#1","t":257,"v":3},{"p":"F#1","t":263,"v":10},{"p":"F#1","t":268,"v":26},{"p":"F#1","t":277,"v":16},{"p":"F#1","t":290,"v":4},{"p":"F#1","t":293,"v":8},{"p":"F#1","t":298,"v":22},{"p":"F#1","t":303,"v":17},{"p":"F#1","t":313,"v":8},{"p":"F#1","t":317,"v":10},{"p":"F#1","t":323,"v":27},{"p":"F#1","t":330,"v":20},{"p":"F#1","t":340,"v":9},{"p":"F#1","t":350,"v":3},{"p":"F#1","t":370,"v":1},{"p":"F#1","t":400,"v":1},{"p":"F#1","t":420,"v":2},{"p":"F#1","t":440,"v":2},{"p":"F#1","t":450,"v":1},{"p":"F#1","t":497,"v":3},{"p":"F#1","t":505,"v":8},{"p":"F#1","t":513,"v":6},{"p":"F#1","t":540,"v":4},{"p":"F#1","t":567,"v":2},{"p":"F#1","t":600,"v":1},{"p":"F#1","t":660,"v":1},{"p":"F#1","t":733,"v":1},{"p":"F#1","t":747,"v":3},{"p":"F#1","t":753,"v":2},{"p":"F#1","t":760,"v":4},{"p":"F#1","t":767,"v":3},{"p":"F#1","t":777,"v":4},{"p":"F#1","t":787,"v":3},{"p":"F#1","t":800,"v":1},{"p":"F#1","t":803,"v":1},
{"p":"F1","t":0,"v":0.3},{"p":"F1","t":12,"v":0.3},{"p":"F1","t":15,"v":2},{"p":"F1","t":20,"v":1},{"p":"F1","t":53,"v":1},{"p":"F1","t":55,"v":5},{"p":"F1","t":60,"v":6},{"p":"F1","t":67,"v":4},{"p":"F1","t":80,"v":2},{"p":"F1","t":87,"v":0.5},{"p":"F1","t":97,"v":1},{"p":"F1","t":133,"v":0.5},{"p":"F1","t":135,"v":3},{"p":"F1","t":143,"v":2},{"p":"F1","t":170,"v":1},{"p":"F1","t":190,"v":4},{"p":"F1","t":203,"v":5},{"p":"F1","t":210,"v":4},{"p":"F1","t":223,"v":2},{"p":"F1","t":237,"v":1},{"p":"F1","t":257,"v":1},{"p":"F1","t":263,"v":4},{"p":"F1","t":277,"v":3},{"p":"F1","t":290,"v":1},{"p":"F1","t":293,"v":5},{"p":"F1","t":303,"v":4},{"p":"F1","t":317,"v":5},{"p":"F1","t":323,"v":3},{"p":"F1","t":330,"v":3},{"p":"F1","t":337,"v":1},{"p":"F1","t":350,"v":4},{"p":"F1","t":357,"v":4},{"p":"F1","t":367,"v":1},{"p":"F1","t":403,"v":0.5},{"p":"F1","t":425,"v":0.5},{"p":"F1","t":430,"v":4},{"p":"F1","t":437,"v":4},{"p":"F1","t":447,"v":1},{"p":"F1","t":500,"v":0.5},{"p":"F1","t":535,"v":0.5},{"p":"F1","t":537,"v":5},{"p":"F1","t":547,"v":3.5},{"p":"F1","t":567,"v":3},{"p":"F1","t":570,"v":0.5},{"p":"F1","t":617,"v":2},{"p":"F1","t":623,"v":1},{"p":"F1","t":700,"v":0.5},{"p":"F1","t":740,"v":2},{"p":"F1","t":747,"v":0.5},{"p":"F1","t":793,"v":2.5},{"p":"F1","t":803,"v":2},
{"p":"E1","t":0,"v":0.3},{"p":"E1","t":12,"v":0.3},{"p":"E1","t":13,"v":1},{"p":"E1","t":22,"v":7},{"p":"E1","t":30,"v":6},{"p":"E1","t":53,"v":3},{"p":"E1","t":55,"v":15},{"p":"E1","t":62,"v":22},{"p":"E1","t":68,"v":18},{"p":"E1","t":77,"v":8},{"p":"E1","t":83,"v":2},{"p":"E1","t":97,"v":0.5},{"p":"E1","t":133,"v":1},{"p":"E1","t":140,"v":6},{"p":"E1","t":150,"v":4.5},{"p":"E1","t":170,"v":3},{"p":"E1","t":182,"v":1},{"p":"E1","t":187,"v":4},{"p":"E1","t":190,"v":3},{"p":"E1","t":198,"v":22},{"p":"E1","t":203,"v":21},{"p":"E1","t":210,"v":14},{"p":"E1","t":223,"v":6},{"p":"E1","t":237,"v":2},{"p":"E1","t":257,"v":2},{"p":"E1","t":263,"v":7},{"p":"E1","t":273,"v":4},{"p":"E1","t":293,"v":3},{"p":"E1","t":296,"v":3},{"p":"E1","t":297,"v":15},{"p":"E1","t":303,"v":22},{"p":"E1","t":317,"v":20},{"p":"E1","t":330,"v":12},{"p":"E1","t":343,"v":2},{"p":"E1","t":350,"v":3},{"p":"E1","t":357,"v":21},{"p":"E1","t":363,"v":17},{"p":"E1","t":377,"v":5},{"p":"E1","t":387,"v":1},{"p":"E1","t":403,"v":0.3},{"p":"E1","t":427,"v":0.3},{"p":"E1","t":430,"v":5},{"p":"E1","t":433,"v":15},{"p":"E1","t":438,"v":21},{"p":"E1","t":447,"v":15},{"p":"E1","t":457,"v":5},{"p":"E1","t":467,"v":2},{"p":"E1","t":480,"v":0.5},{"p":"E1","t":535,"v":1},{"p":"E1","t":538,"v":15},{"p":"E1","t":547,"v":22},{"p":"E1","t":560,"v":19},{"p":"E1","t":567,"v":17},{"p":"E1","t":580,"v":2},{"p":"E1","t":593,"v":1.5},{"p":"E1","t":607,"v":1.5},{"p":"E1","t":620,"v":2},{"p":"E1","t":627,"v":6},{"p":"E1","t":647,"v":4},{"p":"E1","t":667,"v":0.5},{"p":"E1","t":700,"v":2},{"p":"E1","t":707,"v":0.5},{"p":"E1","t":740,"v":1},{"p":"E1","t":780,"v":0.5},{"p":"E1","t":793,"v":4},{"p":"E1","t":803,"v":7},
{"p":"D#1","t":0,"v":0.3},{"p":"D#1","t":53,"v":0.3},{"p":"D#1","t":55,"v":3},{"p":"D#1","t":67,"v":2},{"p":"D#1","t":70,"v":0.3},{"p":"D#1","t":175,"v":1},{"p":"D#1","t":183,"v":5},{"p":"D#1","t":188,"v":6},{"p":"D#1","t":193,"v":21},{"p":"D#1","t":200,"v":17},{"p":"D#1","t":210,"v":10},{"p":"D#1","t":223,"v":5},{"p":"D#1","t":237,"v":1},{"p":"D#1","t":263,"v":1},{"p":"D#1","t":295,"v":3},{"p":"D#1","t":320,"v":2},{"p":"D#1","t":327,"v":0.3},{"p":"D#1","t":350,"v":3},{"p":"D#1","t":360,"v":1},{"p":"D#1","t":370,"v":0.3},{"p":"D#1","t":427,"v":0.3},{"p":"D#1","t":432,"v":3},{"p":"D#1","t":443,"v":1},{"p":"D#1","t":535,"v":0.5},{"p":"D#1","t":537,"v":3},{"p":"D#1","t":567,"v":2},{"p":"D#1","t":573,"v":0.5},{"p":"D#1","t":580,"v":2},{"p":"D#1","t":588,"v":5},{"p":"D#1","t":595,"v":3},{"p":"D#1","t":602,"v":5},{"p":"D#1","t":608,"v":3},{"p":"D#1","t":615,"v":5},{"p":"D#1","t":627,"v":1},{"p":"D#1","t":693,"v":0.5},{"p":"D#1","t":700,"v":3},{"p":"D#1","t":710,"v":5},{"p":"D#1","t":720,"v":3},{"p":"D#1","t":733,"v":2},{"p":"D#1","t":743,"v":0.3},{"p":"D#1","t":803,"v":0.3},
{"p":"D1","t":0,"v":0.2},{"p":"D1","t":55,"v":0.2},{"p":"D1","t":57,"v":1},{"p":"D1","t":63,"v":0.3},{"p":"D1","t":175,"v":0.3},{"p":"D1","t":177,"v":1},{"p":"D1","t":183,"v":3},{"p":"D1","t":197,"v":3},{"p":"D1","t":210,"v":0.3},{"p":"D1","t":350,"v":1},{"p":"D1","t":357,"v":0.2},{"p":"D1","t":430,"v":0.7},{"p":"D1","t":435,"v":0.2},{"p":"D1","t":527,"v":0.8},{"p":"D1","t":532,"v":0.2},{"p":"D1","t":658,"v":0.2},{"p":"D1","t":660,"v":1.5},{"p":"D1","t":667,"v":0.5},{"p":"D1","t":675,"v":1.5},{"p":"D1","t":687,"v":1.5},{"p":"D1","t":693,"v":0.3},{"p":"D1","t":783,"v":1.5},{"p":"D1","t":790,"v":0.3},{"p":"D1","t":803,"v":0.2},
{"p":"C#1","t":0,"v":0.2},{"p":"C#1","t":180,"v":0.2},{"p":"C#1","t":183,"v":3},{"p":"C#1","t":188,"v":8},{"p":"C#1","t":197,"v":7},{"p":"C#1","t":207,"v":3},{"p":"C#1","t":217,"v":0.3},{"p":"C#1","t":658,"v":0.3},{"p":"C#1","t":667,"v":3},{"p":"C#1","t":677,"v":2},{"p":"C#1","t":683,"v":3},{"p":"C#1","t":690,"v":2},{"p":"C#1","t":700,"v":3},{"p":"C#1","t":713,"v":1},{"p":"C#1","t":720,"v":0.2},{"p":"C#1","t":780,"v":0.5},{"p":"C#1","t":790,"v":3},{"p":"C#1","t":803,"v":1.5},
{"p":"C1","t":0,"v":0.2},{"p":"C1","t":175,"v":0.2},{"p":"C1","t":180,"v":0.6},{"p":"C1","t":195,"v":0.6},{"p":"C1","t":200,"v":0.2},{"p":"C1","t":527,"v":0.5},{"p":"C1","t":532,"v":0.2},{"p":"C1","t":740,"v":0.3},{"p":"C1","t":803,"v":0.2}
]},
"facet":{"row":{"field":"p","type":"nominal",
"sort":["B2","A#2","A2","G#2","G2","F#2","F2","E2","D#2","D2","C#2","C2","B1","A#1","A1","G#1","G1","F#1","F1","E1","D#1","D1","C#1","C1"],
"header":{"title":null,"labelAngle":-90,"labelOrient":"left","labelAnchor":"middle","labelAlign":"center","labelBaseline":"bottom","labelFont":"DejaVu Sans","labelFontSize":13,"labelColor":"black","labelPadding":-5,"labelExpr":"replace(datum.value,/[12]/,'')"}}},
"spacing":0.46,
"spec":{"width":803,"height":30,
"mark":{"type":"area","fill":"#0000ff","fillOpacity":1,"stroke":"black","strokeWidth":1.3,"strokeJoin":"miter","clip":false,"interpolate":"monotone"},
"encoding":{"x":{"field":"t","type":"quantitative","scale":{"domain":[0,803],"nice":false,"zero":false},"axis":null},
"y":{"field":"v","type":"quantitative","stack":null,"scale":{"domain":[0,30],"nice":false},"axis":null}}},
"config":{"view":{"stroke":null},"header":{"labelFontSize":13,"labelFont":"DejaVu Sans"}}
}
